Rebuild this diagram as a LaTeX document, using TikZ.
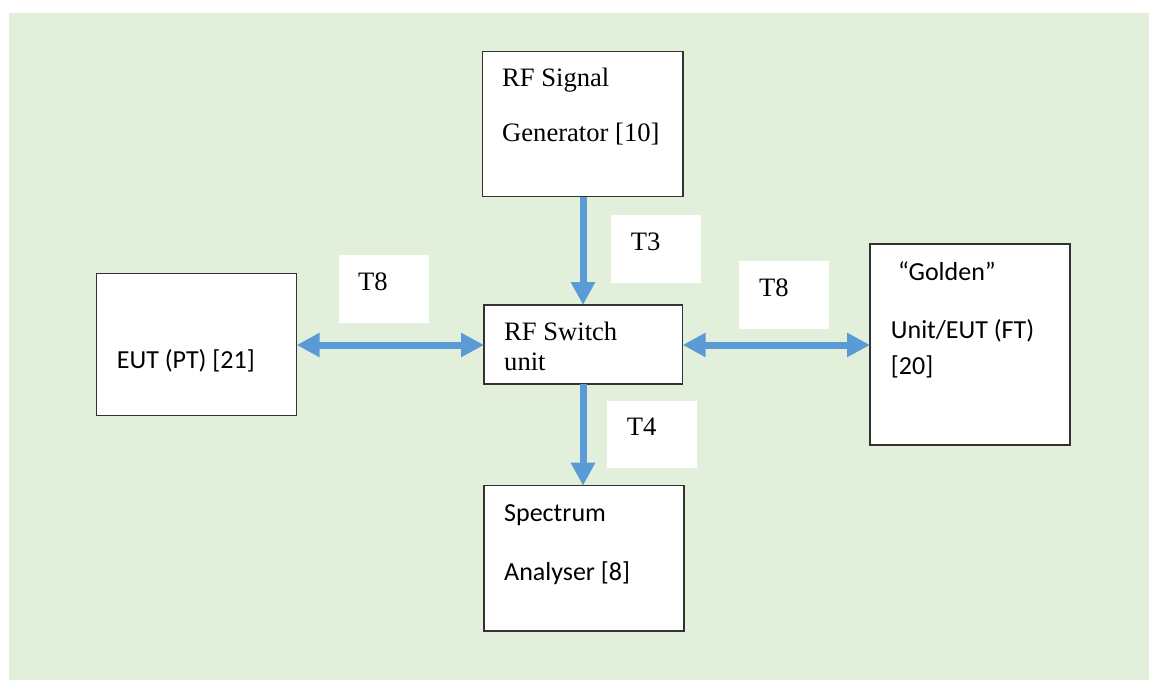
\documentclass[tikz,border=0pt]{standalone}
\usepackage{fontspec}
\setmainfont{Liberation Serif}
\newfontfamily\calibrifam{Carlito}
\usetikzlibrary{arrows.meta}
\definecolor{bggreen}{HTML}{E2EFDA}
\definecolor{arrowblue}{HTML}{5B9BD5}
\definecolor{boxline}{HTML}{333333}
\begin{document}
\begin{tikzpicture}[x=1pt,y=-1pt,
  blk/.style={draw=boxline,line width=1.1pt,fill=white},
  lbl/.style={fill=white},
  conn/.style={draw=arrowblue,line width=7pt,-{Triangle[width=23pt,length=23pt]}},
  biconn/.style={draw=arrowblue,line width=7pt,{Triangle[width=23pt,length=23pt]}-{Triangle[width=23pt,length=23pt]}},
  txt/.style={anchor=base west,inner sep=0pt,font=\fontsize{26.6}{30}\selectfont},
  ctxt/.style={anchor=base west,inner sep=0pt,font=\calibrifam\fontsize{26}{30}\selectfont}]
\useasboundingbox (0,0) rectangle (1149,680);
\fill[white] (0,0) rectangle (1149,680);
\fill[bggreen] (9,13) rectangle (1149,680);
% label backgrounds
\fill[lbl] (610.7,215) rectangle (701,282.7);
\fill[lbl] (339,255) rectangle (429,322.7);
\fill[lbl] (739,261) rectangle (829,329);
\fill[lbl] (606.7,401) rectangle (696.7,468);
% boxes
\path[blk] (482.7,51.7) rectangle (683,196.7);
\coordinate (genS) at (583,196.7);
\path[blk] (484,305) rectangle (682.7,384);
\coordinate (swN) at (583,305);
\coordinate (swS) at (583,384);
\coordinate (swW) at (484,345);
\coordinate (swE) at (682.7,345);
\path[blk] (484,485.7) rectangle (684,631);
\coordinate (saN) at (583,485.7);
\path[blk] (96.7,273.3) rectangle (296.7,415.7);
\coordinate (eutE) at (296.7,345);
\path[blk] (870,244) rectangle (1070,445);
\coordinate (goldW) at (870,345);
% texts
\node[txt] (gen1) at (502,86.7) {RF Signal};
\node[txt] (gen2) at (502,141.7) {Generator [10]};
\node[txt] (sw1) at (504,340) {RF Switch};
\node[txt] (sw2) at (504,370) {unit};
\node[ctxt] (sa1) at (504,521) {Spectrum};
\node[ctxt] (sa2) at (504,580) {Analyser [8]};
\node[ctxt] (eut) at (116.7,368) {EUT (PT) [21]};
\node[ctxt] (g1) at (898,280) {“Golden”};
\node[ctxt] (g2) at (890.7,338) {Unit/EUT (FT)};
\node[ctxt] (g3) at (890.7,374) {[20]};
\node[txt] (t3) at (630.7,250) {T3};
\node[txt] (t8a) at (358,290) {T8};
\node[txt] (t8b) at (759,296) {T8};
\node[txt] (t4) at (626.7,435) {T4};
% connectors
\draw[conn] (genS) -- (swN);
\draw[conn] (swS) -- (saN);
\draw[biconn] (eutE) -- (swW);
\draw[biconn] (swE) -- (goldW);
\end{tikzpicture}
\end{document}
